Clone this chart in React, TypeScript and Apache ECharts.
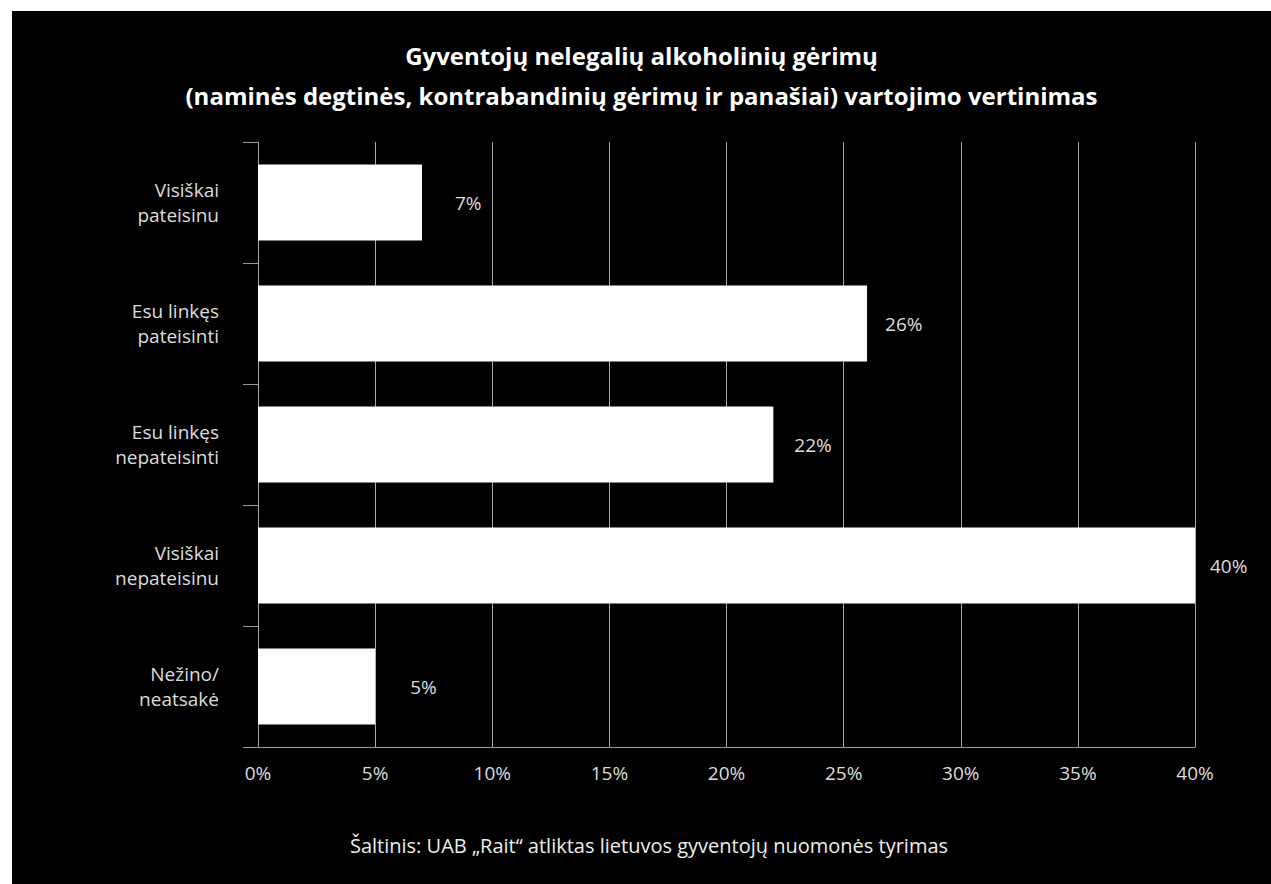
import React, { useEffect, useRef } from "react";
import * as echarts from "echarts";

const categories = [
  "Visiškai\npateisinu",
  "Esu linkęs\npateisinti",
  "Esu linkęs\nnepateisinti",
  "Visiškai\nnepateisinu",
  "Nežino/\nneatsakė",
];
const values = [7, 26, 22, 40, 5];
const labelGaps = [33, 18, 21, 15, 35];
const xTicks = { min: 0, max: 40, interval: 5 };
const titleText =
  "Gyventojų nelegalių alkoholinių gėrimų\n(naminės degtinės, kontrabandinių gėrimų ir panašiai) vartojimo vertinimas";
const sourceText = "Šaltinis: UAB „Rait“ atliktas lietuvos gyventojų nuomonės tyrimas";

const FONT = "'Open Sans', 'Noto Sans', sans-serif";

export default function App() {
  const ref = useRef<HTMLDivElement>(null);
  useEffect(() => {
    if (!ref.current) return;
    const chart = echarts.init(ref.current, undefined, { renderer: "svg" });
    chart.setOption({
      animation: false,
      backgroundColor: "#000",
      textStyle: { fontFamily: FONT },
      title: {
        text: titleText,
        left: "center",
        top: 19,
        textStyle: {
          color: "#fff",
          fontSize: 24,
          fontWeight: "bold",
          lineHeight: 40,
          fontFamily: FONT,
        },
      },
      grid: { left: 246, right: 76, top: 131, bottom: 137, containLabel: false },
      xAxis: {
        type: "value",
        min: xTicks.min,
        max: xTicks.max,
        interval: xTicks.interval,
        axisLine: { show: true, lineStyle: { color: "#999", width: 1 } },
        axisTick: { show: false },
        splitLine: { show: true, lineStyle: { color: "#aaa", width: 1 } },
        axisLabel: {
          color: "#ddd",
          fontSize: 19,
          margin: 16,
          formatter: (v: number) => v + "%",
        },
      },
      yAxis: {
        type: "category",
        inverse: true,
        data: categories,
        axisLine: { show: true, lineStyle: { color: "#aaa", width: 1 } },
        axisTick: { show: true, length: 15, lineStyle: { color: "#999" } },
        axisLabel: {
          color: "#ddd",
          fontSize: 19,
          lineHeight: 25,
          margin: 39,
          align: "right",
        },
      },
      series: [
        {
          type: "bar",
          barWidth: 76,
          itemStyle: { color: "#fff" },
          data: values.map((v, i) => ({
            value: v,
            label: { distance: labelGaps[i] },
          })),
          label: {
            show: true,
            position: "right",
            color: "#ddd",
            fontSize: 19,
            formatter: (p: any) => p.value + "%",
          },
        },
      ],
      graphic: [
        {
          type: "text",
          x: 637,
          y: 834,
          style: {
            text: sourceText,
            fill: "#eee",
            fontSize: 20,
            fontFamily: FONT,
            textAlign: "center",
            textVerticalAlign: "middle",
          },
        },
      ],
    });
    return () => chart.dispose();
  }, []);
  return (
    <div
      ref={ref}
      style={{ position: "fixed", left: 12, top: 11, width: 1259, height: 873 }}
    />
  );
}
